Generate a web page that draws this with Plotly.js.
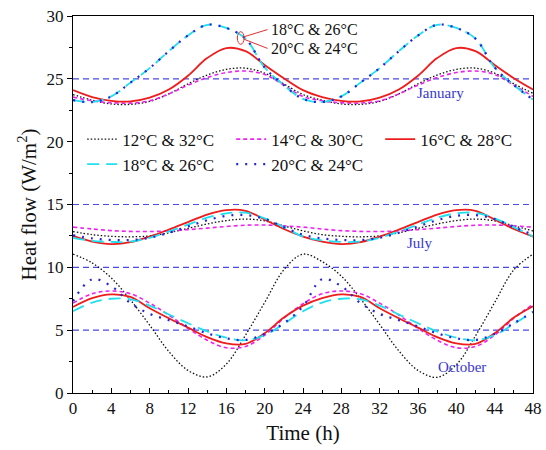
<!DOCTYPE html>
<html>
<head>
<meta charset="utf-8">
<script src="https://cdn.plot.ly/plotly-3.0.1.min.js"></script>
<style>html,body{margin:0;padding:0;background:#fff;}#chart{width:546px;height:450px;}</style>
</head>
<body>
<div id="chart"></div>
<script>
// Time axis (h)
const hours = [0,2,4,6,8,10,12,14,16,18,20,22,24,26,28,30,32,34,36,38,40,42,44,46,48];

// Series names
const seriesNames = ['12°C & 32°C','14°C & 30°C','16°C & 28°C','18°C & 26°C','20°C & 24°C'];

// January
const jan_12_32 = [23.75,23.3,23.0,22.97,23.2,23.8,24.6,25.3,25.75,25.85,25.45,24.6,23.75,23.3,23.0,22.97,23.2,23.8,24.6,25.3,25.75,25.85,25.45,24.6,23.85];
const jan_14_30 = [23.55,23.25,23.1,23.07,23.25,23.8,24.5,25.1,25.5,25.62,25.35,24.5,23.6,23.25,23.1,23.07,23.25,23.8,24.5,25.1,25.5,25.62,25.35,24.5,23.6];
const jan_16_28 = [24.1,23.55,23.25,23.2,23.5,24.15,25.25,26.65,27.45,27.2,26.1,25.05,24.1,23.55,23.25,23.2,23.5,24.15,25.25,26.65,27.45,27.2,26.1,25.05,24.15];
const jan_18_26 = [23.3,23.15,23.6,24.7,25.85,27.2,28.45,29.3,29.05,28.2,25.9,24.5,23.4,23.15,23.6,24.7,25.85,27.2,28.45,29.3,29.05,28.2,25.9,24.5,23.35];
const jan_20_24 = [23.3,23.15,23.6,24.7,25.85,27.2,28.45,29.3,29.05,28.2,25.9,24.5,23.4,23.15,23.6,24.7,25.85,27.2,28.45,29.3,29.05,28.2,25.9,24.5,23.35];

// July
const jul_12_32 = [12.85,12.6,12.47,12.43,12.5,12.75,13.1,13.45,13.72,13.84,13.7,13.3,12.9,12.6,12.47,12.43,12.5,12.75,13.1,13.45,13.72,13.84,13.7,13.3,12.9];
const jul_14_30 = [13.2,13.05,12.92,12.86,12.85,12.9,13.0,13.12,13.25,13.35,13.37,13.3,13.2,13.05,12.92,12.86,12.85,12.9,13.0,13.12,13.25,13.35,13.37,13.3,13.2];
const jul_16_28 = [12.5,12.05,11.85,12.0,12.45,13.0,13.6,14.2,14.55,14.5,13.8,13.05,12.45,12.05,11.85,12.0,12.45,13.0,13.6,14.2,14.55,14.5,13.8,13.05,12.45];
const jul_18_26 = [12.35,12.1,12.02,12.05,12.35,12.85,13.4,13.95,14.3,14.35,13.9,13.2,12.45,12.15,12.02,12.05,12.35,12.85,13.4,13.95,14.3,14.35,13.9,13.2,12.45];
const jul_20_24 = [12.55,12.3,12.18,12.17,12.35,12.75,13.25,13.75,14.1,14.16,13.85,13.2,12.6,12.3,12.18,12.17,12.35,12.75,13.25,13.75,14.1,14.16,13.85,13.2,12.6];

// October
const oct_12_32 = [11.05,10.35,9.15,7.4,5.4,3.3,1.8,1.28,2.3,4.6,7.2,9.8,11.05,10.45,9.3,7.5,5.45,3.35,1.8,1.25,2.25,4.55,7.2,9.8,11.05];
const oct_14_30 = [7.15,7.9,8.12,7.9,7.15,6.2,5.15,4.2,3.6,3.7,4.6,5.95,7.1,7.9,8.12,7.9,7.15,6.2,5.15,4.2,3.6,3.7,4.6,5.95,7.05];
const oct_16_28 = [6.85,7.55,7.85,7.65,6.75,5.95,5.2,4.45,3.95,3.9,4.75,6.0,6.95,7.55,7.85,7.65,6.75,5.95,5.2,4.45,3.95,3.9,4.75,6.0,6.9];
const oct_18_26 = [6.5,7.2,7.5,7.45,6.95,6.25,5.55,4.9,4.4,4.2,4.6,5.5,6.5,7.2,7.5,7.45,6.95,6.25,5.55,4.9,4.4,4.2,4.6,5.5,6.45];
const oct_20_24 = [7.3,9.05,8.5,7.15,6.3,5.8,5.3,4.75,4.35,4.22,4.7,5.55,6.9,9.05,8.5,7.15,6.3,5.8,5.3,4.75,4.35,4.22,4.7,5.55,6.45];

// Reference (dashed) levels
const refLevels = [25, 15, 10, 5];

// Month labels
const monthLabels = ['January','July','October'];
const monthLabelX = [38.3, 36.2, 40.6];
const monthLabelY = [23.9, 11.9, 2.1];

const FONT = 'Liberation Serif, Times New Roman, serif';

const styles = [
  {color:'#111111', dash:'1.5px,2px', width:1.3},
  {color:'#ee22ee', dash:'4px,3px', width:1.6},
  {color:'#ee1c1c', dash:'solid', width:1.8},
  {color:'#1ee0ee', dash:'12px,7px', width:1.8},
  {color:'#2424d8', dash:'2px,7px', width:2.2}
];

const months = [
  [jan_12_32, jan_14_30, jan_16_28, jan_18_26, jan_20_24],
  [jul_12_32, jul_14_30, jul_16_28, jul_18_26, jul_20_24],
  [oct_12_32, oct_14_30, oct_16_28, oct_18_26, oct_20_24]
];

const traces = [];
months.forEach((set, m) => {
  set.forEach((vals, i) => {
    traces.push({
      x: hours, y: vals, type: 'scatter', mode: 'lines',
      name: seriesNames[i], legendgroup: 'g' + i, showlegend: m === 0,
      line: {color: styles[i].color, dash: styles[i].dash, width: styles[i].width, shape: 'spline', smoothing: 1}
    });
  });
});

const shapes = refLevels.map(v => ({
  type: 'line', xref: 'paper', x0: 0, x1: 1, yref: 'y', y0: v, y1: v,
  line: {color: '#4a4ae6', width: 1.2, dash: '6px,4px'}, layer: 'below'
}));
// small ellipse marker with pointer lines
shapes.push({type:'circle', xref:'x', yref:'y', x0:17.15, x1:17.85, y0:27.75, y1:28.75, line:{color:'#e03030', width:1}});
shapes.push({type:'line', xref:'x', yref:'y', x0:17.85, x1:20.3, y0:28.35, y1:28.92, line:{color:'#e03030', width:1}});
shapes.push({type:'line', xref:'x', yref:'y', x0:17.85, x1:20.3, y0:28.15, y1:27.42, line:{color:'#e03030', width:1}});

const annotations = monthLabels.map((t, k) => ({
  x: monthLabelX[k], y: monthLabelY[k], xref: 'x', yref: 'y', text: t, showarrow: false,
  font: {family: FONT, size: 15, color: '#3838d0'}
}));
annotations.push({x:20.4, y:28.95, xref:'x', yref:'y', text: seriesNames[3], showarrow:false, xanchor:'left', font:{family:FONT, size:16, color:'#111'}});
annotations.push({x:20.4, y:27.4, xref:'x', yref:'y', text: seriesNames[4], showarrow:false, xanchor:'left', font:{family:FONT, size:16, color:'#111'}});

const layout = {
  width: 546, height: 450,
  margin: {l: 73, r: 13, t: 16, b: 57},
  paper_bgcolor: '#ffffff', plot_bgcolor: '#ffffff',
  font: {family: FONT, color: '#111', size: 17},
  showlegend: true,
  legend: {
    orientation: 'h', x: 0.02, y: 0.72, xanchor: 'left', yanchor: 'top',
    entrywidth: 104, entrywidthmode: 'pixels',
    bgcolor: 'rgba(0,0,0,0)', font: {family: FONT, size: 17, color: '#111'},
    tracegroupgap: 0, traceorder: 'normal'
  },
  xaxis: {
    range: [0, 48], dtick: 4, tick0: 0, showgrid: false, zeroline: false,
    ticks: 'inside', ticklen: 5, tickwidth: 1, tickcolor: '#000',
    minor: {dtick: 2, ticks: 'inside', ticklen: 3, tickcolor: '#000', showgrid: false},
    showline: true, linecolor: '#000', linewidth: 1, mirror: true,
    tickfont: {family: FONT, size: 17, color: '#111'},
    title: {text: 'Time (h)', font: {family: FONT, size: 21, color: '#111'}, standoff: 7}
  },
  yaxis: {
    range: [0, 30], dtick: 5, tick0: 0, showgrid: false, zeroline: false,
    ticks: 'outside', ticklen: 5, tickwidth: 1, tickcolor: '#000',
    minor: {dtick: 2.5, ticks: 'outside', ticklen: 3, tickcolor: '#000', showgrid: false},
    showline: true, linecolor: '#000', linewidth: 1, mirror: true,
    tickfont: {family: FONT, size: 17, color: '#111'},
    title: {text: 'Heat flow (W/m<sup>2</sup>)', font: {family: FONT, size: 21, color: '#111'}, standoff: 4}
  },
  shapes: shapes,
  annotations: annotations
};

Plotly.newPlot('chart', traces, layout, {displayModeBar: false, staticPlot: true});
</script>
</body>
</html>
